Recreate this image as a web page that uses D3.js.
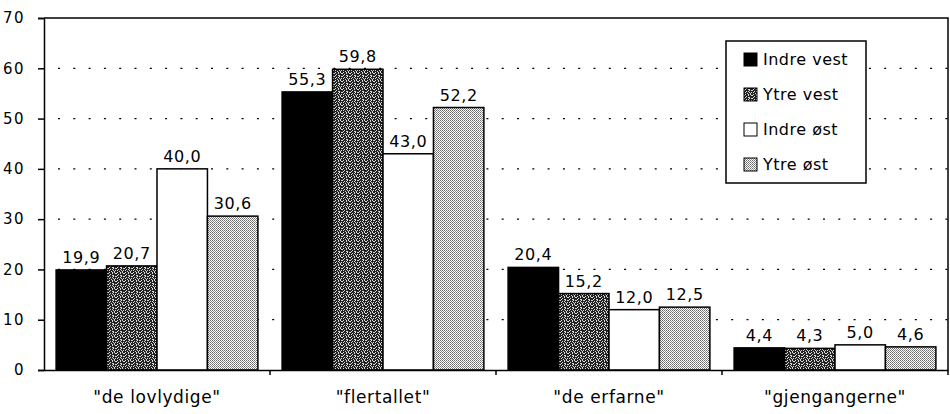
<!DOCTYPE html>
<html>
<head>
<meta charset="utf-8">
<script src="https://cdn.jsdelivr.net/npm/d3@7"></script>
<style>
body { margin: 0; background: #fff; }
text { font-family: "DejaVu Sans", Verdana, sans-serif; fill: #000; }
</style>
</head>
<body>
<svg width="950" height="414"></svg>
<script>
var width = 950;
var height = 414;

// data
var categories = ['"de lovlydige"', '"flertallet"', '"de erfarne"', '"gjengangerne"'];
var seriesNames = ["Indre vest", "Ytre vest", "Indre øst", "Ytre øst"];
var indreVest = [19.9, 55.3, 20.4, 4.4];
var ytreVest = [20.7, 59.8, 15.2, 4.3];
var indreOst = [40.0, 43.0, 12.0, 5.0];
var ytreOst = [30.6, 52.2, 12.5, 4.6];
var yTicks = [0, 10, 20, 30, 40, 50, 60, 70];

var seriesValues = [indreVest, ytreVest, indreOst, ytreOst];
var fills = ["#000", "url(#patVest)", "#fff", "url(#patOst)"];

var margin = {top: 18, right: 2, bottom: 44, left: 44};
var svg = d3.select("svg");

// patterns (mottled dark for Ytre vest, fine dither for Ytre øst)
var defs = svg.append("defs");
var vestTile = [
    "#.##.#.#",
    ".###.##.",
    "##.#####",
    "#.##..##",
    ".####.#.",
    "##.#.###",
    "#.###.#.",
    "###.##.#"
];
var pv = defs.append("pattern").attr("id", "patVest")
    .attr("width", 8).attr("height", 8).attr("patternUnits", "userSpaceOnUse");
pv.append("rect").attr("width", 8).attr("height", 8).attr("fill", "#d8d8d8");
vestTile.forEach(function(row, r) {
    row.split("").forEach(function(c, k) {
        if (c === "#") pv.append("rect").attr("x", k).attr("y", r).attr("width", 1).attr("height", 1).attr("fill", "#222");
    });
});
var po = defs.append("pattern").attr("id", "patOst")
    .attr("width", 2).attr("height", 2).attr("patternUnits", "userSpaceOnUse");
po.append("rect").attr("width", 2).attr("height", 2).attr("fill", "#fff");
po.append("rect").attr("x", 0).attr("y", 0).attr("width", 1).attr("height", 1).attr("fill", "#6a6a6a");
po.append("rect").attr("x", 1).attr("y", 1).attr("width", 1).attr("height", 1).attr("fill", "#8a8a8a");

var x0 = d3.scaleBand()
    .domain(categories)
    .range([margin.left, width - margin.right]);
var x1 = d3.scaleBand()
    .domain(seriesNames)
    .range([0, x0.bandwidth()])
    .paddingOuter(0.24);
var y = d3.scaleLinear()
    .domain([0, 70])
    .range([height - margin.bottom, margin.top]);

// gridlines
svg.append("g").selectAll("line")
    .data(yTicks.filter(function(d) { return d > 0 && d < 70; }))
    .enter().append("line")
    .attr("x1", margin.left + 14).attr("x2", width - margin.right)
    .attr("y1", function(d) { return y(d); }).attr("y2", function(d) { return y(d); })
    .attr("stroke", "#000").attr("stroke-width", 1.3)
    .attr("stroke-dasharray", "2,13.3");

// plot border top & right
svg.append("path")
    .attr("d", "M" + margin.left + "," + y(70) + "H" + (width - margin.right) + "V" + y(0))
    .attr("fill", "none").attr("stroke", "#000").attr("stroke-width", 1.5);

// bars
var groups = svg.append("g").selectAll("g")
    .data(categories)
    .enter().append("g")
    .attr("transform", function(d) { return "translate(" + x0(d) + ",0)"; });

function rows(c, i) {
    return seriesNames.map(function(s, j) { return {s: s, j: j, v: seriesValues[j][i]}; });
}

groups.selectAll("rect")
    .data(rows)
    .enter().append("rect")
    .attr("x", function(d) { return x1(d.s); })
    .attr("y", function(d) { return y(d.v); })
    .attr("width", x1.bandwidth())
    .attr("height", function(d) { return y(0) - y(d.v); })
    .attr("fill", function(d) { return fills[d.j]; })
    .attr("stroke", "#000").attr("stroke-width", 1.5);

groups.selectAll("text")
    .data(rows)
    .enter().append("text")
    .attr("x", function(d) { return x1(d.s) + x1.bandwidth() / 2; })
    .attr("y", function(d) { return y(d.v) - 7; })
    .attr("text-anchor", "middle")
    .style("font-size", "16px")
    .style("letter-spacing", "0.6px")
    .text(function(d) { return d3.format(".1f")(d.v).replace(".", ","); });

// axes
var yAxis = svg.append("g")
    .attr("transform", "translate(" + margin.left + ",0)")
    .call(d3.axisLeft(y).tickValues(yTicks).tickSize(6).tickPadding(13));
yAxis.select(".domain").attr("stroke-width", 1.5);
yAxis.selectAll(".tick line").attr("stroke-width", 1.5);
yAxis.selectAll("text")
    .style("font-size", "15px")
    .style("letter-spacing", "1.5px")
    .style("font-family", "DejaVu Sans, Verdana, sans-serif");

var xAxis = svg.append("g")
    .attr("transform", "translate(0," + y(0) + ")")
    .call(d3.axisBottom(x0).tickSize(0).tickPadding(21));
xAxis.select(".domain").attr("stroke-width", 1.5);
xAxis.selectAll("text")
    .style("font-size", "17px")
    .style("letter-spacing", "0.6px")
    .style("font-family", "DejaVu Sans, Verdana, sans-serif");
// boundary ticks between categories
svg.append("g").selectAll("line")
    .data(categories)
    .enter().append("line")
    .attr("x1", function(d) { return x0(d) + x0.bandwidth(); })
    .attr("x2", function(d) { return x0(d) + x0.bandwidth(); })
    .attr("y1", y(0)).attr("y2", y(0) + 5)
    .attr("stroke", "#000").attr("stroke-width", 1.5);

// legend
var legend = svg.append("g").attr("transform", "translate(726,41)");
legend.append("rect")
    .attr("width", 140).attr("height", 142)
    .attr("fill", "#fff").attr("stroke", "#000").attr("stroke-width", 1.5);
var items = legend.selectAll(".item")
    .data(seriesNames)
    .enter().append("g")
    .attr("transform", function(d, i) { return "translate(18," + (18 + i * 35) + ")"; });
items.append("rect")
    .attr("x", 0).attr("y", -6).attr("width", 13).attr("height", 13)
    .attr("fill", function(d, i) { return fills[i]; })
    .attr("stroke", "#000").attr("stroke-width", 1);
items.append("text")
    .attr("x", 19).attr("y", 6)
    .style("font-size", "16px")
    .style("letter-spacing", "0.5px")
    .text(function(d) { return d; });
</script>
</body>
</html>
